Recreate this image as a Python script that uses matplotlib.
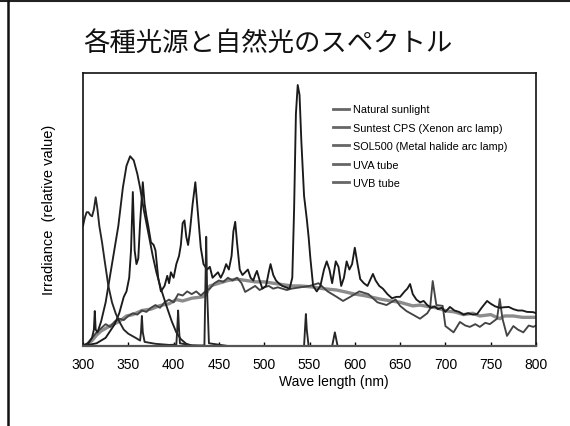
import matplotlib
matplotlib.use("Agg")
import matplotlib.pyplot as plt
from matplotlib.lines import Line2D

# ── Data (relative irradiance 0..1) ───────────────────────────────────────────
TITLE = "各種光源と自然光のスペクトル"
XTICKS = [300, 350, 400, 450, 500, 550, 600, 650, 700, 750, 800]

sun_wl = [300, 305, 310, 315, 320, 330, 340, 348, 355, 365, 375, 385, 395, 403,
          410, 420, 432, 436, 440, 450, 460, 470, 480, 490, 500, 510, 520, 530,
          540, 554, 565, 580, 591, 600, 610, 628, 640, 650, 664, 672, 680, 690,
          702, 710, 720, 730, 738, 750, 760, 765, 775, 785, 800]
sun_val = [0.0, 0.007, 0.02, 0.04, 0.055, 0.074, 0.09, 0.11, 0.115, 0.13, 0.135,
           0.148, 0.155, 0.17, 0.165, 0.175, 0.18, 0.19, 0.22, 0.23, 0.24, 0.245,
           0.24, 0.235, 0.235, 0.23, 0.225, 0.22, 0.22, 0.216, 0.21, 0.205, 0.197,
           0.19, 0.185, 0.172, 0.165, 0.16, 0.147, 0.15, 0.145, 0.14, 0.128, 0.125,
           0.115, 0.12, 0.11, 0.115, 0.10, 0.11, 0.11, 0.105, 0.105]

xenon_wl = [300, 305, 310, 315, 320, 325, 330, 335, 340, 345, 350, 355, 360, 365,
            370, 375, 380, 385, 390, 395, 400, 405, 410, 415, 420, 425, 430, 435,
            440, 445, 450, 455, 460, 465, 470, 475, 479, 485, 490, 495, 500, 505,
            510, 515, 520, 525, 530, 540, 550, 560, 570, 580, 587, 595, 605, 615,
            625, 635, 645, 650, 657, 664, 672, 680, 683, 686, 690, 697, 700, 709,
            716, 722, 727, 733, 738, 744, 749, 757, 760, 763, 768, 775, 780, 786,
            792, 797, 800]
xenon_val = [0.0, 0.01, 0.03, 0.05, 0.065, 0.08, 0.07, 0.09, 0.10, 0.095, 0.11,
             0.12, 0.115, 0.13, 0.125, 0.14, 0.15, 0.14, 0.16, 0.17, 0.16, 0.19,
             0.185, 0.20, 0.19, 0.20, 0.185, 0.20, 0.21, 0.23, 0.24, 0.235, 0.25,
             0.24, 0.25, 0.23, 0.198, 0.21, 0.22, 0.205, 0.215, 0.22, 0.21, 0.215,
             0.21, 0.205, 0.21, 0.215, 0.22, 0.23, 0.20, 0.18, 0.165, 0.18, 0.20,
             0.19, 0.16, 0.15, 0.17, 0.147, 0.128, 0.115, 0.10, 0.12, 0.136,
             0.238, 0.15, 0.147, 0.073, 0.05, 0.088, 0.075, 0.07, 0.08, 0.07,
             0.085, 0.08, 0.10, 0.172, 0.10, 0.037, 0.073, 0.06, 0.05, 0.075,
             0.07, 0.075]

sol_wl = [300, 315, 325, 335, 340, 345, 348, 351, 353, 355, 357, 359, 361, 363,
          366, 368, 370, 372, 375, 378, 380, 383, 386, 390, 393, 395, 397, 400,
          403, 406, 408, 410, 412, 414, 416, 418, 421, 424, 427, 430, 433, 437,
          440, 443, 446, 449, 452, 455, 458, 461, 464, 466, 468, 470, 473, 476,
          479, 482, 485, 488, 490, 492, 495, 498, 502, 505, 507, 510, 513, 516,
          520, 524, 528, 531, 533, 535, 537, 539, 541, 544, 547, 549, 551, 554,
          558, 562, 566, 569, 572, 575, 579, 582, 585, 588, 591, 594, 597, 600,
          603, 606, 610, 614, 618, 620, 623, 627, 631, 636, 641, 646, 650, 655,
          658, 661, 664, 668, 672, 676, 680, 684, 688, 692, 696, 700, 705, 710,
          715, 720, 725, 730, 735, 740, 746, 750, 755, 760, 765, 770, 775, 780,
          785, 790, 797, 800]
sol_val = [0.0, 0.01, 0.03, 0.08, 0.12, 0.18, 0.20, 0.25, 0.35, 0.564, 0.35, 0.30,
           0.32, 0.45, 0.60, 0.52, 0.476, 0.44, 0.38, 0.37, 0.35, 0.25, 0.20, 0.22,
           0.257, 0.23, 0.27, 0.25, 0.30, 0.33, 0.37, 0.45, 0.46, 0.40, 0.37, 0.42,
           0.52, 0.60, 0.48, 0.36, 0.30, 0.28, 0.29, 0.25, 0.26, 0.27, 0.25, 0.27,
           0.30, 0.28, 0.33, 0.42, 0.455, 0.38, 0.28, 0.26, 0.27, 0.28, 0.25, 0.24,
           0.26, 0.275, 0.24, 0.21, 0.22, 0.27, 0.30, 0.26, 0.24, 0.23, 0.22,
           0.215, 0.21, 0.25, 0.50, 0.85, 0.956, 0.92, 0.75, 0.55, 0.465, 0.40,
           0.32, 0.22, 0.20, 0.22, 0.28, 0.31, 0.28, 0.23, 0.31, 0.29, 0.22, 0.25,
           0.31, 0.28, 0.30, 0.36, 0.30, 0.245, 0.23, 0.22, 0.25, 0.264, 0.24,
           0.22, 0.21, 0.19, 0.175, 0.18, 0.18, 0.20, 0.21, 0.227, 0.19, 0.17,
           0.16, 0.165, 0.15, 0.14, 0.145, 0.135, 0.14, 0.125, 0.143, 0.13, 0.125,
           0.115, 0.12, 0.115, 0.117, 0.14, 0.165, 0.155, 0.145, 0.14, 0.142,
           0.143, 0.135, 0.13, 0.13, 0.125, 0.124, 0.12]

uva_wl = [300, 306, 310, 312, 313, 314, 316, 320, 325, 328, 333, 339, 344, 348,
          352, 356, 360, 363, 367, 372, 377, 381, 386, 392, 398, 403, 408, 414,
          420, 430, 800]
uva_val = [0.0, 0.01, 0.03, 0.06, 0.128, 0.06, 0.05, 0.09, 0.16, 0.22, 0.32,
           0.44, 0.58, 0.66, 0.695, 0.68, 0.63, 0.58, 0.50, 0.416, 0.33, 0.27,
           0.21, 0.148, 0.09, 0.05, 0.025, 0.008, 0.002, 0.0, 0.0]

uvb_wl = [300, 302, 304, 306, 308, 310, 312, 314, 316, 318, 321, 324, 328, 332,
          336, 340, 345, 350, 358, 363, 364, 365, 366, 368, 380, 395, 403, 404,
          405, 406, 407, 420, 434, 435, 436, 437, 439, 460, 544, 545, 546, 547,
          549, 575, 578, 581, 800]
uvb_val = [0.44, 0.47, 0.49, 0.49, 0.48, 0.475, 0.50, 0.545, 0.50, 0.44, 0.38,
           0.31, 0.22, 0.16, 0.12, 0.09, 0.06, 0.045, 0.03, 0.02, 0.05, 0.11,
           0.05, 0.015, 0.008, 0.004, 0.005, 0.06, 0.13, 0.06, 0.01, 0.002, 0.002,
           0.2, 0.40, 0.2, 0.01, 0.0, 0.0, 0.06, 0.117, 0.06, 0.0, 0.0, 0.05, 0.0,
           0.0]

LABELS = ["Natural sunlight", "Suntest CPS (Xenon arc lamp)",
          "SOL500 (Metal halide arc lamp)", "UVA tube", "UVB tube"]

# ── Figure ────────────────────────────────────────────────────────────────────
fig = plt.figure(figsize=(5.7, 4.27), dpi=100)
ax = fig.add_axes([83 / 570, 1 - 347 / 427, 453 / 570, 273 / 427])

series = [
    (sun_wl, sun_val, "#8c8c8c", 2.4),
    (xenon_wl, xenon_val, "#444444", 1.35),
    (sol_wl, sol_val, "#1a1a1a", 1.35),
    (uva_wl, uva_val, "#1e1e1e", 1.35),
    (uvb_wl, uvb_val, "#262626", 1.35),
]
for (wl, val, col, lw), lab in zip(series, LABELS):
    ax.plot(wl, val, color=col, linewidth=lw, label=lab, solid_joinstyle="round")

ax.set_xlim(300, 800)
ax.set_ylim(0, 1)
ax.set_xticks(XTICKS)
ax.set_xticklabels([str(t) for t in XTICKS], family="Liberation Sans", fontsize=10)
ax.set_yticks([])
ax.tick_params(axis="x", direction="in", length=3, width=1, pad=8)
for sp in ax.spines.values():
    sp.set_linewidth(1.2)
    sp.set_color("#111111")
ax.spines["bottom"].set_linewidth(1.6)
ax.spines["bottom"].set_color("#555555")

leg = ax.legend(
    loc="upper left",
    bbox_to_anchor=(0.54, 0.905),
    frameon=False,
    prop={"family": "Liberation Sans", "size": 7.8},
    handlelength=1.5,
    handletextpad=0.35,
    labelspacing=0.78,
    borderpad=0,
)
for h in leg.get_lines():
    h.set_linewidth(2.0)
    h.set_color("#666666")

fig.text(334 / 570, 1 - 382 / 427, "Wave length (nm)", ha="center", va="center",
         family="Liberation Sans", fontsize=10)
fig.text(49 / 570, 1 - 210 / 427, "Irradiance  (relative value)", ha="center",
         va="center", rotation=90, family="Liberation Sans", fontsize=10.5)
fig.text(268 / 570, 1 - 43 / 427, TITLE, ha="center", va="center",
         family=["Noto Sans CJK JP", "DejaVu Sans"], fontsize=19, color="#111111")

# scanned slide frame: top and left border
fig.add_artist(Line2D([0, 1], [1 - 2 / 427, 1 - 2 / 427], color="#222222",
                      linewidth=1.5, transform=fig.transFigure))
fig.add_artist(Line2D([8 / 570, 8 / 570], [0, 1 - 2 / 427], color="#111111",
                      linewidth=1.8, transform=fig.transFigure))

fig.savefig("out.png", dpi=100)
